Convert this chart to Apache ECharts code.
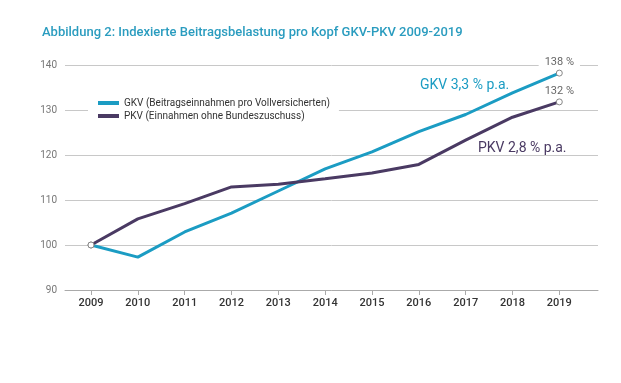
<!DOCTYPE html>
<html><head><meta charset="utf-8">
<script src="https://cdn.jsdelivr.net/npm/echarts@6/dist/echarts.min.js"></script>
<style>html,body{margin:0;padding:0;background:#fff}#c{width:621px;height:383px}</style>
</head><body><div id="c"></div>
<script>
var years = [2009, 2010, 2011, 2012, 2013, 2014, 2015, 2016, 2017, 2018, 2019];
var gkv = [100, 97.3, 102.9, 107.1, 112.0, 116.9, 120.7, 125.2, 129.0, 133.8, 138.2];
var pkv = [100, 105.8, 109.2, 112.9, 113.5, 114.7, 116.0, 117.9, 123.3, 128.4, 131.8];
var seriesNames = ['GKV (Beitragseinnahmen pro Vollversicherten)', 'PKV (Einnahmen ohne Bundeszuschuss)'];
var endLabels = ['138 %', '132 %'];
var rateLabels = ['GKV 3,3 % p.a.', 'PKV 2,8 % p.a.'];
var yTicks = [90, 100, 110, 120, 130, 140];
var title = 'Abbildung 2: Indexierte Beitragsbelastung pro Kopf GKV-PKV 2009-2019';

var FONT = "Roboto, sans-serif";
var cGKV = '#1b9cc3', cPKV = '#4a3a63';
var last = years.length - 1;
function pairs(arr, lbl){
  return years.map(function(y,i){
    var d = {value: [y, arr[i]]};
    if (i === last) d.label = {show: true, formatter: lbl};
    return d;
  });
}
function sym(v, p){ return (p.dataIndex === 0 || p.dataIndex === last) ? 6 : 0; }
function mkSeries(name, arr, color, lbl){
  return {
    name: name, type: 'line', data: pairs(arr, lbl), symbol: 'circle', symbolSize: sym,
    showAllSymbol: true,
    lineStyle: {width: 3, color: color}, itemStyle: {color: '#fff', borderColor: '#888', borderWidth: 1},
    label: {show: false, position: 'top', distance: 2,
      color: '#666', fontFamily: FONT, fontSize: 11, backgroundColor: '#fff', padding: [0, 6]},
    emphasis: {disabled: true}, z: 3
  };
}
var chart = echarts.init(document.getElementById('c'), null, {renderer: 'canvas'});
chart.setOption({
  animation: false,
  backgroundColor: '#fff',
  color: [cGKV, cPKV],
  title: {text: title, left: 37, top: 21, textStyle: {fontFamily: FONT, fontSize: 13, fontWeight: 500, color: '#2a9cbf'}},
  grid: {left: 65, right: 23, top: 65, bottom: 93},
  legend: {
    orient: 'vertical', left: 88, top: 97, backgroundColor: '#fff', padding: [1, 9, 1, 10],
    itemWidth: 21, itemHeight: 4, itemGap: 3, icon: 'rect',
    textStyle: {fontFamily: FONT, fontSize: 10, color: '#333'},
    data: [{name: seriesNames[0], itemStyle: {color: cGKV, borderWidth: 0}}, {name: seriesNames[1], itemStyle: {color: cPKV, borderWidth: 0}}]
  },
  xAxis: {
    type: 'value', min: 2008.445, max: 2019.826,
    axisLine: {show: true, lineStyle: {color: '#aaa'}},
    axisTick: {show: true, length: 5, lineStyle: {color: '#aaa'}, customValues: years},
    axisLabel: {customValues: years, formatter: function(v){ return String(v); }, color: '#333', fontFamily: FONT, fontSize: 11, fontWeight: 500, margin: 8},
    splitLine: {show: false}
  },
  yAxis: {
    type: 'value', min: 90, max: 140, interval: 10,
    axisLine: {show: false}, axisTick: {show: false},
    axisLabel: {color: '#777', fontFamily: FONT, fontSize: 10, margin: 8},
    splitLine: {lineStyle: {color: '#c8c8c8', width: 1}}
  },
  graphic: [
    {type: 'text', left: 420, top: 78, style: {text: rateLabels[0], fill: cGKV, font: '14px ' + FONT}},
    {type: 'text', left: 478, top: 141, style: {text: rateLabels[1], fill: cPKV, font: '14px ' + FONT}}
  ],
  series: [mkSeries(seriesNames[0], gkv, cGKV, endLabels[0]), mkSeries(seriesNames[1], pkv, cPKV, endLabels[1])]
});
</script></body></html>
